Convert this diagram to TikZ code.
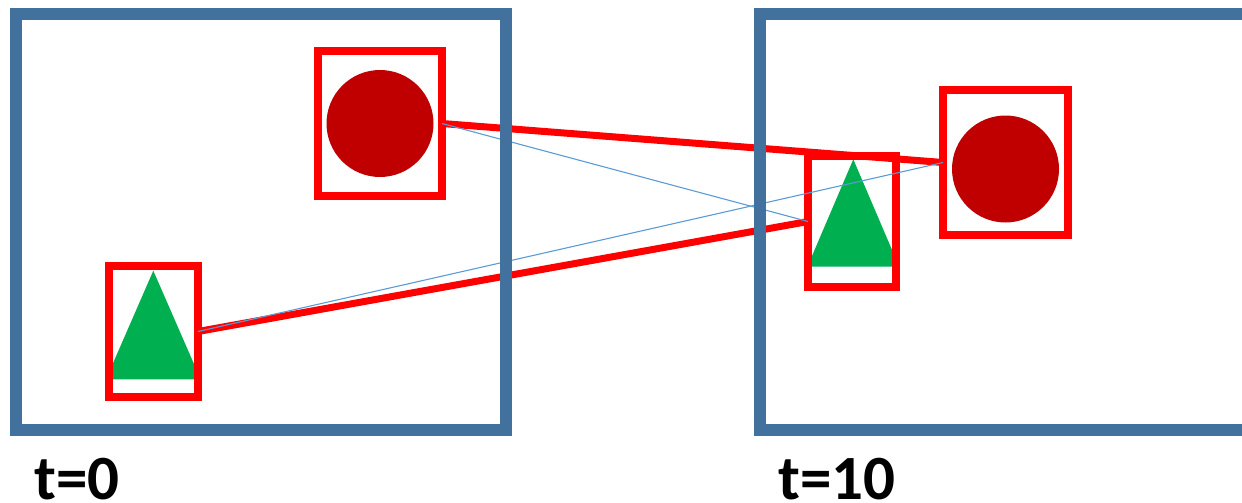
\documentclass[tikz,border=0pt]{standalone}
\usepackage{fontspec}
\setmainfont{Carlito}
\definecolor{framecol}{RGB}{65,113,156}
\definecolor{boxred}{RGB}{255,0,0}
\definecolor{ballred}{RGB}{192,0,0}
\definecolor{treegreen}{RGB}{0,176,80}
\definecolor{linkblue}{RGB}{91,155,213}
\tikzset{
  frame/.style={draw=framecol, line width=12pt, inner sep=0pt, outer sep=0pt},
  objbox/.style={draw=boxred, line width=8pt, inner sep=0pt, outer sep=0pt},
  ball/.style={circle, fill=ballred, inner sep=0pt, minimum size=107pt},
  tracklink/.style={draw=boxred, line width=7pt},
  matchlink/.style={draw=linkblue, line width=1.1pt},
  timelabel/.style={font=\bfseries\fontsize{63}{72}\selectfont, inner sep=0pt, anchor=base west}
}
\begin{document}
\begin{tikzpicture}[x=1pt, y=-1pt]
\useasboundingbox (0,0) rectangle (1242,503);

% objects in the frame at t=0
\node[ball] (ballA) at (380,123.5) {};
\fill[treegreen] (153.3,270.7) -- (200.7,379.3) -- (106,379.3) -- cycle;
% objects in the frame at t=10
\node[ball] (ballB) at (1005.5,169) {};
\fill[treegreen] (853.3,159.3) -- (899.2,266.7) -- (807.4,266.7) -- cycle;

% bounding boxes
\node[objbox, minimum width=124pt, minimum height=145pt] (c1) at (380,123.5) {};
\node[objbox, minimum width=89pt, minimum height=131pt] (t1) at (153.5,331.5) {};
\node[objbox, minimum width=88pt, minimum height=131pt] (t2) at (852,221.5) {};
\node[objbox, minimum width=125pt, minimum height=145pt] (c2) at (1005.5,162.5) {};

% correct associations
\draw[tracklink] (c1.east) -- (c2.west);
\draw[tracklink] (t1.east) -- (t2.west);
% swapped associations
\draw[matchlink] (c1.east) -- (t2.west);
\draw[matchlink] (t1.east) -- (c2.west);

% video frames
\node[frame, minimum width=490pt, minimum height=416pt] (f0) at (261,222) {};
\node[frame, minimum width=500pt, minimum height=416pt] (f10) at (1010,222) {};

% time stamps
\node[timelabel] (l0) at (34,499.5) {t=0};
\node[timelabel] (l10) at (778,499.5) {t=10};
\end{tikzpicture}
\end{document}
